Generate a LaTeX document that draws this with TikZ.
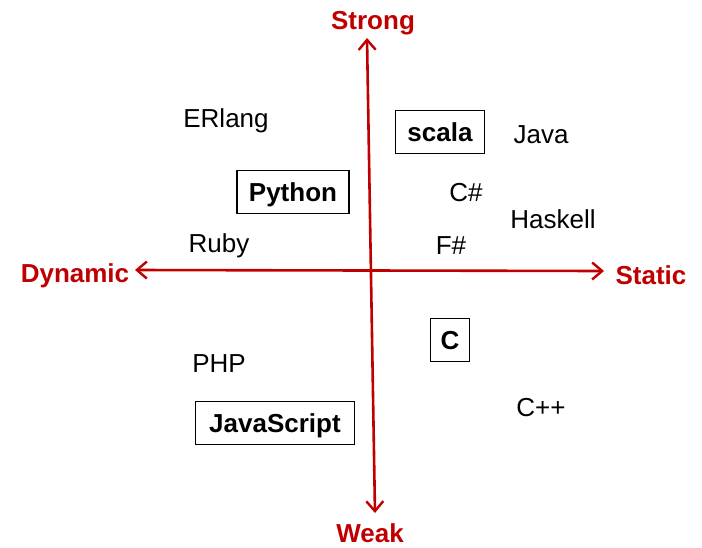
\documentclass[tikz,border=0pt]{standalone}
\usepackage{fontspec}
\setmainfont{Liberation Sans}
\usetikzlibrary{arrows.meta}
\definecolor{axisred}{HTML}{C00000}
\begin{document}
\begin{tikzpicture}[x=1pt,y=-1pt,
  lang/.style={font=\fontsize{26}{28}\selectfont, text=black, inner sep=0pt,
    text height=18.6pt, text depth=0pt},
  boxed/.style={draw=black, line width=1.3pt, font=\fontsize{26}{28}\selectfont\bfseries,
    minimum height=43pt, inner xsep=12pt, inner ysep=0pt, text height=18.6pt, text depth=0pt},
  axlabel/.style={font=\fontsize{26}{28}\selectfont\bfseries, text=axisred, inner sep=0pt,
    text height=18.6pt, text depth=0pt},
  axis/.style={draw=axisred, line width=2.6pt,
    {Straight Barb[length=10pt,width=17pt,line width=2.4pt]}-{Straight Barb[length=10pt,width=17pt,line width=2.4pt]}}]
\useasboundingbox (0,0) rectangle (702,547);
% axis labels
\node[axlabel] (strong) at (373,20) {Strong};
\node[axlabel] (weak) at (370,533) {Weak};
\node[axlabel] (dynamic) at (75,273) {Dynamic};
\node[axlabel] (static) at (651,275) {Static};
% axes
\coordinate (vtop) at (367,38);
\coordinate (vbot) at (375,513);
\coordinate (hleft) at (135,270);
\coordinate (hright) at (604,271);
\draw[axis] (vbot) -- (vtop);
\draw[axis] (hleft) -- (hright);
% languages
\node[lang] (erlang) at (226,118) {ERlang};
\node[boxed] (scala) at (440,132) {scala};
\node[lang] (java) at (541,134) {Java};
\node[boxed] (python) at (293,192) {Python};
\node[lang] (csharp) at (466,192) {C\#};
\node[lang] (haskell) at (553,219) {Haskell};
\node[lang] (ruby) at (219,243) {Ruby};
\node[lang] (fsharp) at (451,245) {F\#};
\node[boxed, inner xsep=10pt] (c) at (450,340) {C};
\node[lang] (php) at (219,363) {PHP};
\node[lang] (cpp) at (541,407) {C++};
\node[boxed, inner xsep=14pt] (js) at (275,423) {JavaScript};
\end{tikzpicture}
\end{document}
